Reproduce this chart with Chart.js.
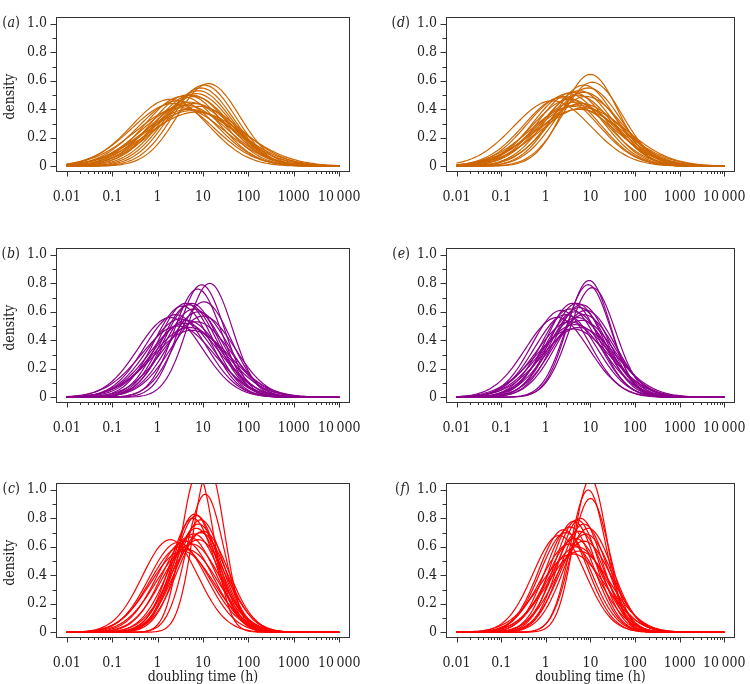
<!DOCTYPE html>
<html>
<head>
<meta charset="utf-8">
<script src="https://cdn.jsdelivr.net/npm/chart.js@4.4.1/dist/chart.umd.min.js"></script>
<style>
  body { margin: 0; background: #fff; }
  #wrap { position: relative; width: 750px; height: 684px; }
  #wrap canvas { position: absolute; }
</style>
</head>
<body>
<div id="wrap"></div>
<script>
// each curve is a fitted log-normal: peak doubling time (h) and peak density
const aPeakTime    = [13.2, 10.5, 8.9, 7.9, 7.1, 5.6, 6.3, 4.5, 3.5, 1.9, 2.8, 5.0, 6.3, 4.0, 7.9, 5.0, 5.6, 7.1, 3.2, 2.2];
const aPeakDensity = [0.58, 0.57, 0.55, 0.53, 0.51, 0.50, 0.49, 0.50, 0.49, 0.47, 0.46, 0.45, 0.44, 0.43, 0.42, 0.40, 0.39, 0.38, 0.41, 0.44];

const bPeakTime    = [14, 9.3, 7.6, 10.5, 4.2, 5.6, 5.0, 3.5, 6.3, 7.9, 1.9, 3.2, 4.5, 7.1, 4.0, 2.8, 5.0, 5.6, 2.5, 10];
const bPeakDensity = [0.80, 0.79, 0.76, 0.67, 0.66, 0.66, 0.65, 0.64, 0.62, 0.60, 0.56, 0.55, 0.54, 0.53, 0.52, 0.50, 0.49, 0.47, 0.58, 0.57];

const cPeakTime    = [7.6, 13.5, 11.2, 6.6, 7.2, 6.0, 8.9, 7.9, 7.1, 10, 6.3, 5.0, 7.9, 1.9, 4.0, 5.6, 3.2, 4.5, 3.5, 2.8, 8.9];
const cPeakDensity = [1.12, 1.15, 0.97, 0.83, 0.82, 0.80, 0.79, 0.76, 0.73, 0.71, 0.69, 0.67, 0.65, 0.65, 0.64, 0.62, 0.60, 0.58, 0.57, 0.63, 0.70];

const dPeakTime    = [10, 11, 7.1, 8.9, 5.6, 4.0, 7.1, 3.2, 5.0, 2.5, 7.9, 1.4, 3.5, 4.5, 6.3, 5.0, 4.0, 7.1, 5.6, 2.2];
const dPeakDensity = [0.645, 0.59, 0.57, 0.55, 0.53, 0.52, 0.52, 0.51, 0.50, 0.49, 0.49, 0.46, 0.47, 0.45, 0.44, 0.43, 0.42, 0.41, 0.40, 0.48];

const ePeakTime    = [9.3, 8.9, 11, 5.0, 4.0, 6.3, 5.6, 3.5, 7.9, 4.5, 2.8, 1.8, 5.0, 6.3, 3.5, 4.5, 5.6, 4.0, 7.1, 2.2];
const ePeakDensity = [0.82, 0.79, 0.77, 0.66, 0.66, 0.65, 0.63, 0.62, 0.61, 0.60, 0.58, 0.56, 0.56, 0.54, 0.53, 0.51, 0.49, 0.48, 0.58, 0.61];

const fPeakTime    = [10, 8.9, 10, 6.0, 5.0, 4.2, 7.1, 3.5, 8.9, 5.6, 2.8, 2.0, 4.5, 7.1, 3.5, 5.0, 5.6, 4.0, 2.5, 7.9];
const fPeakDensity = [1.08, 1.00, 0.94, 0.80, 0.79, 0.78, 0.76, 0.74, 0.73, 0.71, 0.70, 0.68, 0.66, 0.64, 0.62, 0.60, 0.57, 0.55, 0.72, 0.69];

const xTickValues = [0.01, 0.1, 1, 10, 100, 1000, 10000];
const xTickLabels = ['0.01', '0.1', '1', '10', '100', '1000', '10\u2009000'];
const yTickValues = [0, 0.2, 0.4, 0.6, 0.8, 1.0];
const yTickLabels = ['0', '0.2', '0.4', '0.6', '0.8', '1.0'];

const ORANGE = '#cc6600';
const PURPLE = '#8b008b';
const RED = '#ff0000';
const FONT = '"DejaVu Serif Condensed", "DejaVu Serif", serif';
const FSIZE = 14;

// sampling grid in log10(h), from 0.01 to 10 000 h
const logGrid = [];
for (let i = 0; i <= 120; i++) logGrid.push(-2 + i * 0.05);

// log-normal density on a log10 axis, height h at the peak
function curve(t, h) {
  const m = Math.log10(t);
  return logGrid.map(L => ({ x: Math.pow(10, L), y: h * Math.exp(-Math.PI * h * h * (L - m) * (L - m)) }));
}

const panels = [
  { tag: 'a', col: 0, row: 0, color: ORANGE, times: aPeakTime, dens: aPeakDensity },
  { tag: 'b', col: 0, row: 1, color: PURPLE, times: bPeakTime, dens: bPeakDensity },
  { tag: 'c', col: 0, row: 2, color: RED, times: cPeakTime, dens: cPeakDensity },
  { tag: 'd', col: 1, row: 0, color: ORANGE, times: dPeakTime, dens: dPeakDensity },
  { tag: 'e', col: 1, row: 1, color: PURPLE, times: ePeakTime, dens: ePeakDensity },
  { tag: 'f', col: 1, row: 2, color: RED, times: fPeakTime, dens: fPeakDensity },
];

const colLeft = [0, 375];
const boxLeft = [56, 71];      // box left edge inside each column
const rowTop = [3, 234, 469];  // box top on the page
const BOX_W = 294, BOX_H = 169, PAD_TOP = 3;

// minor x ticks 2..9 in every decade, minor y ticks at odd tenths
const xMinor = [];
for (let d = -2; d < 4; d++) for (let k = 2; k <= 9; k++) xMinor.push(k * Math.pow(10, d));
const yMinor = [0.1, 0.3, 0.5, 0.7, 0.9];

const framePlugin = {
  id: 'frame',
  afterDatasetsDraw(chart) {
    const p = chart.options.plugins.frame;
    const { ctx, chartArea: a, scales: { x, y } } = chart;
    ctx.save();
    ctx.strokeStyle = '#333';
    ctx.lineWidth = 1;
    const L = Math.round(a.left) + 0.5, R = Math.round(a.right) - 0.5;
    const T = Math.round(a.top) + 0.5, B = Math.round(a.bottom) - 0.5;
    ctx.strokeRect(L, T, R - L, B - T);
    ctx.beginPath();
    x.ticks.forEach(t => {
      const px = Math.round(x.getPixelForValue(t.value)) + 0.5;
      const len = xTickValues.includes(t.value) ? 5 : 2.5;
      ctx.moveTo(px, B); ctx.lineTo(px, B + len);
    });
    y.ticks.forEach(t => {
      const py = Math.round(y.getPixelForValue(t.value)) + 0.5;
      const major = yTickValues.some(v => Math.abs(v - t.value) < 1e-9);
      const len = major ? 6 : 4;
      ctx.moveTo(L, py); ctx.lineTo(L - len, py);
    });
    ctx.stroke();

    ctx.fillStyle = '#222';
    ctx.textBaseline = 'middle';
    // panel tag, e.g. (a)
    ctx.textAlign = 'right';
    ctx.font = FSIZE + 'px ' + FONT;
    const ty = y.getPixelForValue(1.0);
    const tagRight = a.left - 36;
    ctx.fillText(')', tagRight, ty);
    const wClose = ctx.measureText(')').width;
    ctx.font = 'italic ' + FSIZE + 'px ' + FONT;
    ctx.fillText(p.tag, tagRight - wClose, ty);
    const wTag = ctx.measureText(p.tag).width;
    ctx.font = FSIZE + 'px ' + FONT;
    ctx.fillText('(', tagRight - wClose - wTag - 0.5, ty);

    ctx.textAlign = 'center';
    if (p.yTitle) {
      ctx.save();
      ctx.translate(a.left - 46, (a.top + a.bottom) / 2 + 2);
      ctx.rotate(-Math.PI / 2);
      ctx.fillText('density', 0, 0);
      ctx.restore();
    }
    if (p.xTitle) {
      ctx.fillText('doubling time (h)', (a.left + a.right) / 2, a.bottom + 39);
    }
    ctx.restore();
  }
};

const wrap = document.getElementById('wrap');

panels.forEach(p => {
  const top = rowTop[p.row] - PAD_TOP;
  const W = 375;
  const H = p.row === 2 ? 684 - top : 215;
  const bl = boxLeft[p.col];
  const canvas = document.createElement('canvas');
  canvas.width = W; canvas.height = H;
  canvas.style.left = colLeft[p.col] + 'px';
  canvas.style.top = top + 'px';
  canvas.style.width = W + 'px';
  canvas.style.height = H + 'px';
  wrap.appendChild(canvas);

  const datasets = p.times.map((t, i) => ({
    data: curve(t, p.dens[i]),
    borderColor: p.color,
    borderWidth: 1.2,
    pointRadius: 0,
    fill: false,
    tension: 0,
  }));

  new Chart(canvas, {
    type: 'line',
    data: { datasets },
    options: {
      responsive: false,
      animation: false,
      events: [],
      layout: { padding: { top: PAD_TOP, right: W - bl - BOX_W, left: 0, bottom: 0 } },
      plugins: {
        legend: { display: false },
        tooltip: { enabled: false },
        frame: { tag: p.tag, yTitle: p.col === 0, xTitle: p.row === 2 },
      },
      scales: {
        x: {
          type: 'logarithmic',
          min: Math.pow(10, -2.236),
          max: Math.pow(10, 4.236),
          // tick marks are drawn by the frame plugin; tickLength only pushes the labels down
          grid: { display: false, drawTicks: true, tickLength: 13 },
          border: { display: false },
          afterBuildTicks: s => {
            s.ticks = xTickValues.concat(xMinor).sort((u, v) => u - v).map(v => ({ value: v }));
          },
          afterFit: s => { s.height = H - PAD_TOP - BOX_H; },
          ticks: {
            autoSkip: false,
            maxRotation: 0,
            minRotation: 0,
            padding: 4,
            color: '#222',
            font: { family: FONT, size: FSIZE },
            callback: v => {
              const i = xTickValues.indexOf(v);
              return i >= 0 ? xTickLabels[i] : '';
            },
          },
        },
        y: {
          min: -0.0405,
          max: 1.045,
          grid: { display: false, drawTicks: false },
          border: { display: false },
          afterBuildTicks: s => {
            s.ticks = yTickValues.concat(yMinor).sort((u, v) => u - v).map(v => ({ value: v }));
          },
          afterFit: s => { s.width = bl; },
          ticks: {
            autoSkip: false,
            padding: 9,
            color: '#222',
            font: { family: FONT, size: FSIZE },
            callback: v => {
              const i = yTickValues.findIndex(u => Math.abs(u - v) < 1e-9);
              return i >= 0 ? yTickLabels[i] : '';
            },
          },
        },
      },
    },
    plugins: [framePlugin],
  });
});
</script>
</body>
</html>
